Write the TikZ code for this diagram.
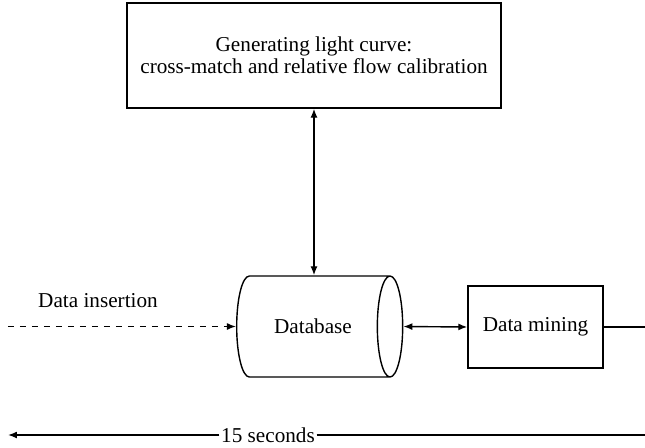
\documentclass[tikz,border=0pt]{standalone}
\usepackage{fontspec}
\setmainfont{Liberation Serif}
\usetikzlibrary{arrows.meta,shapes.geometric}
\begin{document}
\begin{tikzpicture}[x=0.5pt,y=-0.5pt,line width=0.7pt,
    font=\fontsize{10.6}{10.8}\selectfont,
    box/.style={draw,rectangle,align=center,inner sep=0pt},
    tip/.style={-{Latex[length=4.5pt,width=3.5pt]}},
    dtip/.style={{Latex[length=4.5pt,width=3.5pt]}-{Latex[length=4.5pt,width=3.5pt]}}]
  \useasboundingbox (0,0) rectangle (645,447);
  \node[box,minimum width=187pt,minimum height=52.5pt] (curve) at (314,55.5)
    {Generating light curve:\\cross-match and relative flow calibration};
  \node[draw,cylinder,shape aspect=1.7,minimum height=83pt,minimum width=50.5pt,inner sep=0pt] (db) at (313,326.5) {Database};
  \node[box,minimum width=67.5pt,minimum height=41pt] (mining) at (535.5,327) {Data mining};
  \coordinate (in) at (8,326.5);
  \coordinate (out) at (645,327);
  \node (insert) at (98,301) {Data insertion};
  \draw[dtip] (curve.south) -- (curve.south |- db.north);
  \draw[tip,dashed] (in) -- (db.west);
  \draw[dtip] (db.east) -- (mining.west);
  \draw (mining.east) -- (out);
  % time scale
  \node[inner sep=0.5pt] (secs) at (268,435) {15 seconds};
  \coordinate (tstart) at (8,435);
  \coordinate (tend) at (645,435);
  \draw[tip] (secs.west) -- (tstart);
  \draw (secs.east) -- (tend);
\end{tikzpicture}
\end{document}
